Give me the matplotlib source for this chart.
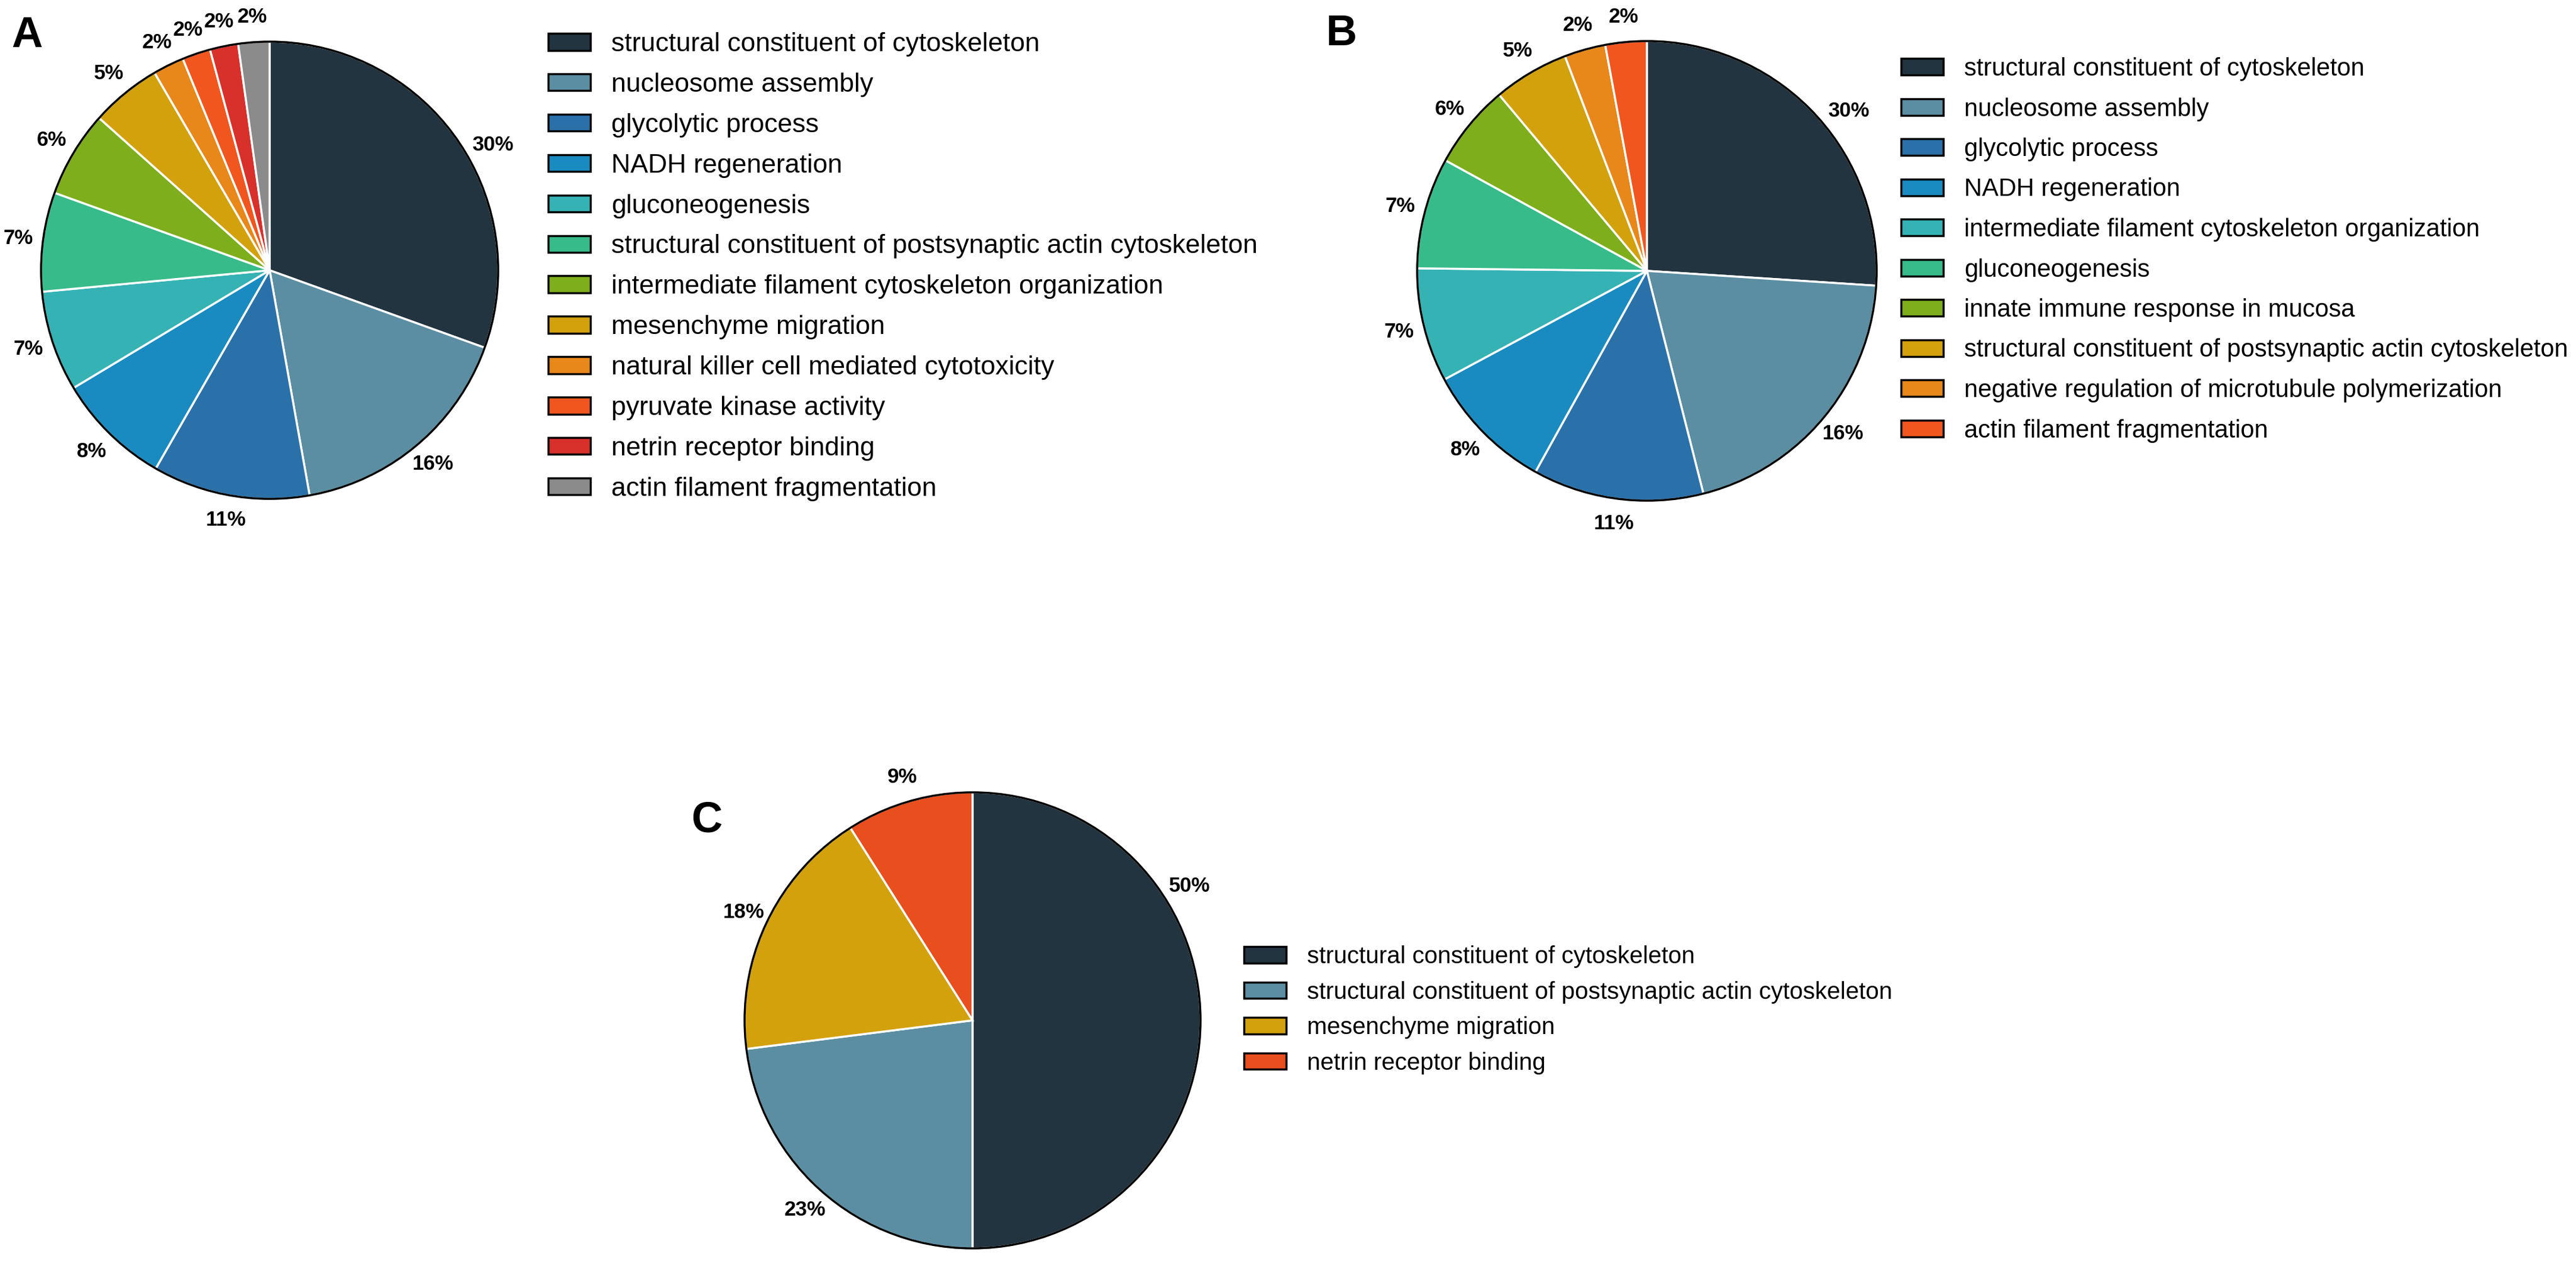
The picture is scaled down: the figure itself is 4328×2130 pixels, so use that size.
import numpy as np
import matplotlib
matplotlib.use('Agg')
import matplotlib.pyplot as plt
from matplotlib.patches import Patch, Circle

W, H = 4328, 2130
DPI = 100

plt.rcParams['font.family'] = ['Liberation Sans', 'DejaVu Sans']

# panel A
terms_a = ['structural constituent of cytoskeleton', 'nucleosome assembly',
           'glycolytic process', 'NADH regeneration', 'gluconeogenesis',
           'structural constituent of postsynaptic actin cytoskeleton',
           'intermediate filament cytoskeleton organization', 'mesenchyme migration',
           'natural killer cell mediated cytotoxicity', 'pyruvate kinase activity',
           'netrin receptor binding', 'actin filament fragmentation']
share_a = [30.5, 16.7, 11.1, 8.1, 7.1, 7.0, 6.1, 5.0, 2.2, 2.0, 2.0, 2.2]
pct_a = ['30%', '16%', '11%', '8%', '7%', '7%', '6%', '5%', '2%', '2%', '2%', '2%']
colors_a = ['#22343f', '#5b8ea2', '#2b71a9', '#1a8bc0', '#35b2b4', '#37bb8a',
            '#7eae1c', '#d3a10c', '#e8871a', '#f1561f', '#d8302b', '#8b8b8b']

# panel B
terms_b = ['structural constituent of cytoskeleton', 'nucleosome assembly',
           'glycolytic process', 'NADH regeneration',
           'intermediate filament cytoskeleton organization', 'gluconeogenesis',
           'innate immune response in mucosa',
           'structural constituent of postsynaptic actin cytoskeleton',
           'negative regulation of microtubule polymerization',
           'actin filament fragmentation']
share_b = [26.0, 20.0, 12.0, 9.1, 8.0, 7.8, 5.9, 5.3, 2.9, 2.9]
pct_b = ['30%', '16%', '11%', '8%', '7%', '7%', '6%', '5%', '2%', '2%']
colors_b = ['#22343f', '#5b8ea2', '#2b71a9', '#1a8bc0', '#35b2b4', '#37bb8a',
            '#7eae1c', '#d3a10c', '#e8871a', '#f1561f']

# panel C
terms_c = ['structural constituent of cytoskeleton',
           'structural constituent of postsynaptic actin cytoskeleton',
           'mesenchyme migration', 'netrin receptor binding']
share_c = [50, 23, 18, 9]
pct_c = ['50%', '23%', '18%', '9%']
colors_c = ['#22343f', '#5b8ea2', '#d3a10c', '#e84e1e']

fig = plt.figure(figsize=(W / DPI, H / DPI), dpi=DPI)


# pie centred at (cx, cy) pixels with radius r, labels just outside the rim
# first_angle: where the label of the big first slice sits (degrees)
def draw_pie(cx, cy, r, shares, pcts, colors, first_angle):
    s = 1.25 * r
    ax = fig.add_axes([(cx - s) / W, (H - cy - s) / H, 2 * s / W, 2 * s / H])
    wedges, texts = ax.pie(shares, labels=pcts, colors=colors, startangle=90,
                           counterclock=False, labeldistance=1.11,
                           wedgeprops=dict(edgecolor='white', linewidth=2.5),
                           textprops=dict(fontsize=25, fontweight='bold'))
    for t in texts:
        t.set_ha('center')
        t.set_va('center')
    a = np.deg2rad(first_angle)
    texts[0].set_position((1.12 * np.cos(a), 1.12 * np.sin(a)))
    ax.add_patch(Circle((0, 0), 1, fill=False, ec='black', lw=2.5, zorder=5))
    ax.set_xlim(-1.25, 1.25)
    ax.set_ylim(-1.25, 1.25)
    ax.set_aspect('equal')
    return ax


# legend with the top-left corner at (x, y) pixels
def draw_legend(x, y, terms, colors, size, spacing):
    px = size * DPI / 72
    handles = [Patch(facecolor=c, edgecolor='black', linewidth=2.5) for c in colors]
    fig.legend(handles, terms, loc='upper left', bbox_to_anchor=(x / W, 1 - y / H),
               frameon=False, fontsize=size, handlelength=71 / px, handleheight=27 / px,
               handletextpad=35 / px, labelspacing=spacing, borderpad=0, borderaxespad=0)


draw_pie(453, 454, 384, share_a, pct_a, colors_a, 29.3)
draw_legend(921, 54, terms_a, colors_a, 32, 0.605)

draw_pie(2767, 455, 386, share_b, pct_b, colors_b, 38.4)
draw_legend(3194, 96, terms_b, colors_b, 30, 0.66)

draw_pie(1634, 1714, 383, share_c, pct_c, colors_c, 31.7)
draw_legend(2090, 1588, terms_c, colors_c, 29, 0.535)

for letter, x, y in [('A', 19, 79), ('B', 2227, 76), ('C', 1162, 1398)]:
    fig.text(x / W, 1 - y / H, letter, fontsize=52, fontweight='bold',
             ha='left', va='baseline')

fig.savefig('out.png', dpi=DPI, facecolor='white')
